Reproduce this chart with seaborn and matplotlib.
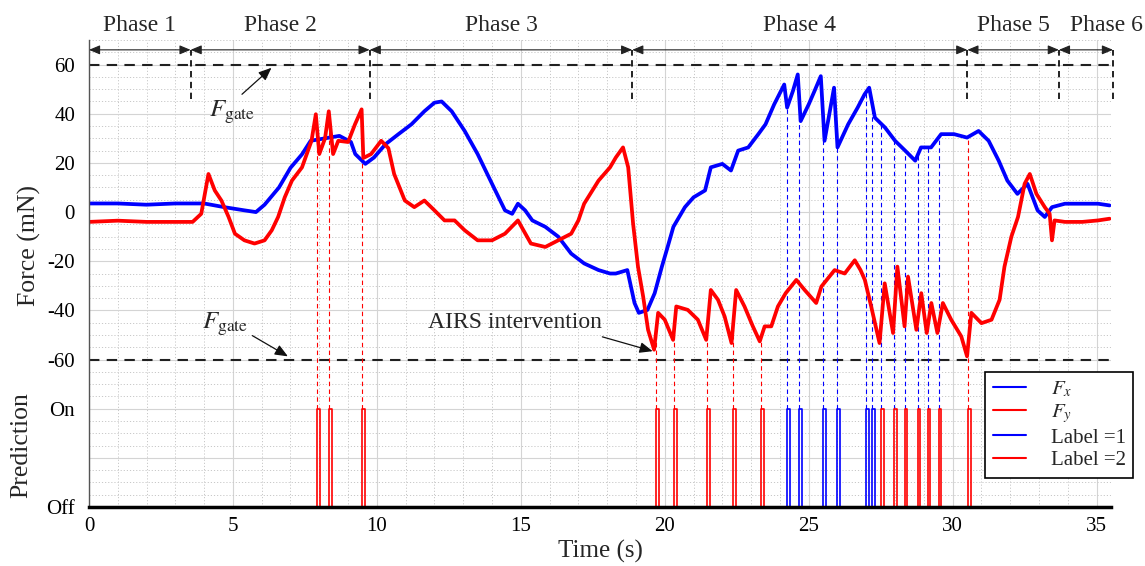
import matplotlib.pyplot as plt
import seaborn as sns
import numpy as np
import pandas as pd
from matplotlib.lines import Line2D
from matplotlib.ticker import MultipleLocator


# force traces (time in s, force in mN)
fx_t = [0.0, 1.0, 2.0, 3.0, 4.0, 4.7, 5.4, 5.8, 6.1, 6.6, 7.0, 7.4, 7.7, 8.2, 8.7, 9.1,
        9.25, 9.6, 9.9, 10.3, 10.75, 11.2, 11.65, 12.0, 12.25, 12.6, 13.05, 13.5, 14.0,
        14.45, 14.7, 14.9, 15.15, 15.4, 15.85, 16.3, 16.75, 17.2, 17.7, 18.1, 18.3, 18.7,
        18.95, 19.1, 19.4, 19.65, 19.9, 20.1, 20.3, 20.7, 21.0, 21.4, 21.6, 22.0, 22.3,
        22.55, 22.9, 23.25, 23.5, 23.8, 24.15, 24.25, 24.45, 24.62, 24.72, 25.0, 25.2,
        25.42, 25.55, 25.88, 26.0, 26.37, 26.7, 26.94, 27.1, 27.3, 27.65, 28.0, 28.35,
        28.7, 28.9, 29.25, 29.6, 30.05, 30.5, 30.9, 31.25, 31.6, 31.9, 32.25, 32.6, 32.95,
        33.2, 33.45, 33.9, 34.5, 35.05, 35.45]
fx_v = [3.5, 3.5, 3.0, 3.5, 3.5, 2.0, 0.7, 0.0, 3.0, 10, 18, 23.5, 29, 30, 31, 28.5,
        23.6, 19.6, 22.2, 27.6, 31.7, 35.7, 41, 44.5, 45, 41, 33, 23.6, 11.5,
        0.7, -0.7, 3.4, 0.7, -3.4, -6, -10, -16.9, -20.9, -23.6, -25, -25, -23.6,
        -37, -41, -39.8, -33, -22.2, -14.2, -6, 2, 6, 8.8, 18.2, 19.6, 16.9,
        25, 26.3, 31.7, 35.7, 43.8, 51.9, 42.5, 49.2, 56, 37, 43.8, 49.2,
        55.3, 29, 50.6, 26.3, 35.7, 42.5, 47.9, 50.6, 38.4, 34.4, 29, 25,
        20.9, 26.3, 26.3, 31.7, 31.7, 30.3, 33, 29, 20.9, 12.8, 7.4, 11.5, 0.7,
        -2, 2, 3.4, 3.4, 3.4, 2.7]

fy_t = [0.0, 1.0, 2.0, 3.0, 3.6, 3.9, 4.15, 4.37, 4.6, 4.85, 5.07, 5.4, 5.75, 6.1, 6.35,
        6.57, 6.8, 7.05, 7.4, 7.73, 7.88, 8.0, 8.2, 8.33, 8.48, 8.66, 9.0, 9.24, 9.47,
        9.53, 9.8, 10.15, 10.4, 10.6, 10.97, 11.3, 11.65, 12.0, 12.35, 12.7, 13.05, 13.5,
        14.0, 14.45, 14.9, 15.35, 15.85, 16.3, 16.75, 17.0, 17.2, 17.7, 18.1, 18.3, 18.55,
        18.73, 18.9, 19.07, 19.25, 19.42, 19.63, 19.77, 20.0, 20.29, 20.4, 20.8, 21.15,
        21.44, 21.6, 21.85, 22.08, 22.32, 22.48, 22.77, 23.06, 23.3, 23.47, 23.7, 23.93,
        24.2, 24.57, 24.86, 25.26, 25.44, 25.9, 26.25, 26.6, 26.8, 26.95, 27.17, 27.46,
        27.64, 27.93, 28.08, 28.33, 28.45, 28.74, 28.91, 29.1, 29.26, 29.47, 29.66, 29.95,
        30.3, 30.5, 30.65, 31.0, 31.35, 31.63, 31.8, 32.04, 32.27, 32.5, 32.68, 32.91,
        33.2, 33.37, 33.45, 33.54, 33.9, 34.5, 35.05, 35.45]
fy_v = [-4, -3.5, -4, -4, -4, -0.7, 15.5, 8.8, 4.7, -2, -8.8, -11.5, -12.8, -11.5, -7.4,
        -2, 6, 12.8, 18.2, 29, 39.8, 23.6, 30, 41, 23.6, 29, 28.5, 35.7, 41.8,
        22, 23.6, 29, 26, 15.5, 4.7, 2, 4.7, 0.7, -3.4, -3.4, -7.4, -11.5,
        -11.5, -8.8, -3.4, -12.8, -14.2, -11.5, -8.8, -3.4, 3.4, 12.8, 18.2, 22.2, 26.3,
        18.2, -4.7, -22.2, -34.4, -47.9, -56, -41, -43.8, -52, -38.4, -39.8, -43.8,
        -52, -31.7, -35.7, -42.5, -53.3, -31.7, -38.4, -46.5, -52.6, -46.5, -46.5, -38.4,
        -33, -27.6, -31.7, -37, -30.3, -23.6, -25, -19.6, -23.6, -27.6, -38.4, -53.3,
        -29, -49.2, -22.2, -46.5, -26.3, -47.9, -33, -49.2, -37, -49.2, -37, -43.8,
        -50.6, -58.7, -41, -45.2, -43.8, -35.7, -22.2, -10, -2, 11.5, 15.5, 7.4,
        2, -0.7, -11.5, -3.4, -4, -4, -3.4, -2.7]

# predicted contact events
event_t = [7.93, 8.34, 9.50, 19.69, 20.31, 21.46, 22.36, 23.33, 24.24, 24.65, 25.49,
           25.97, 26.98, 27.19, 27.50, 27.95, 28.33, 28.78, 29.13, 29.51, 30.52]
event_label = [2, 2, 2, 2, 2, 2, 2, 2, 1, 1, 1, 1, 1, 1, 2, 2, 2, 2, 2, 2, 2]
guide_label = [2, 2, 2, 2, 2, 2, 2, 2, 1, 1, 1, 1, 1, 1, 1, 1, 1, 1, 1, 1, 2]
guide_trace = ["Fy"] * 8 + ["Fx"] * 13

phase_edges = [0, 3.53, 9.75, 18.87, 30.51, 33.69, 35.57]
phase_names = ["Phase 1", "Phase 2", "Phase 3", "Phase 4", "Phase 5", "Phase 6"]

f_gate = 60
on_level, off_level = -80, -120

blue, red = "#0000ff", "#ff0000"
colors = {1: blue, 2: red}

sns.set_style("whitegrid")
plt.rcParams["font.family"] = ["Liberation Serif", "DejaVu Serif"]
plt.rcParams["mathtext.fontset"] = "stix"

fig = plt.figure(figsize=(11.45, 5.66), dpi=100)
ax = fig.add_axes([0.0777, 0.1042, 0.8926, 0.8251])

# grid first
ax.set_xlim(0, 35.5)
ax.set_ylim(off_level, 70)
ax.xaxis.set_major_locator(MultipleLocator(5))
ax.xaxis.set_minor_locator(MultipleLocator(1))
ax.yaxis.set_minor_locator(MultipleLocator(5))
yt = [60, 40, 20, 0, -20, -40, -60, -80, -100, -120]
ax.set_yticks(yt)
ax.set_yticklabels(["60", "40", "20", "0", "-20", "-40", "-60", "On", "", "Off"])
ax.grid(which="major", color="#d4d4d4", lw=0.8, ls="-")
ax.grid(which="minor", color="#c8c8c8", lw=0.7, ls=(0, (1.2, 2.0)))
ax.set_axisbelow(True)

# gate lines
for g in (f_gate, -f_gate):
    ax.axhline(g, color="#202020", lw=1.5, ls=(0, (5, 3.5)), zorder=1.6)

# guide lines from the traces down to the prediction pulses
fx_at = np.interp(event_t, fx_t, fx_v)
fy_at = np.interp(event_t, fy_t, fy_v)
tops = np.where(np.array(guide_trace) == "Fx", fx_at, fy_at)
ax.vlines(event_t, on_level, tops, colors=[colors[g] for g in guide_label],
          linestyles=(0, (4, 3)), lw=0.8, zorder=1.7)

# force traces
df = pd.concat([
    pd.DataFrame({"t": fx_t, "force": fx_v, "axis": "Fx"}),
    pd.DataFrame({"t": fy_t, "force": fy_v, "axis": "Fy"}),
])
sns.lineplot(data=df, x="t", y="force", hue="axis", hue_order=["Fx", "Fy"],
             palette={"Fx": blue, "Fy": red}, estimator=None, sort=False,
             lw=2.7, legend=False, ax=ax, zorder=2)

# prediction pulses
w = 0.1
for lab in (1, 2):
    ts, ys = [], []
    for t, l in zip(event_t, event_label):
        if l == lab:
            ts += [t, t, t + w, t + w, np.nan]
            ys += [off_level, on_level, on_level, off_level, np.nan]
    ax.plot(ts, ys, color=colors[lab], lw=1.2, zorder=2)

# phase markers
ax.vlines(phase_edges[1:], 46, 66, colors="#111111", linestyles=(0, (3.5, 2.5)),
          lw=1.3, clip_on=False)
for i, (a, b) in enumerate(zip(phase_edges[:-1], phase_edges[1:])):
    ax.annotate("", xy=(b, 66), xytext=(a, 66), annotation_clip=False,
                arrowprops=dict(arrowstyle="<|-|>,head_length=0.6,head_width=0.25",
                                color="#222222", lw=0.8, shrinkA=0, shrinkB=0,
                                mutation_scale=11))
    if i < len(phase_names) - 1:
        ax.text((a + b) / 2, 76, phase_names[i], ha="center", va="center",
                fontsize=17, clip_on=False)
    else:
        ax.annotate(phase_names[i], xy=(0.998, 76), xycoords=("figure fraction", "data"),
                    ha="right", va="center", fontsize=17, annotation_clip=False)

# annotations
arrow_kw = dict(arrowstyle="-|>,head_length=0.6,head_width=0.25", color="#111111",
                lw=0.9, mutation_scale=13, shrinkA=1, shrinkB=0)
ax.annotate(r"$F_{\mathrm{gate}}$", xy=(6.34, 58.7), xytext=(4.96, 40.7),
            ha="center", va="center", fontsize=18,
            arrowprops=dict(arrow_kw, relpos=(0.62, 1.0)))
ax.annotate(r"$F_{\mathrm{gate}}$", xy=(6.91, -58.7), xytext=(4.72, -45.9),
            ha="center", va="center", fontsize=18,
            arrowprops=dict(arrow_kw, relpos=(1.0, 0.2)))
ax.annotate("AIRS intervention", xy=(19.58, -56.6), xytext=(14.79, -45),
            ha="center", va="center", fontsize=17,
            arrowprops=dict(arrow_kw, relpos=(0.93, 0.0)))

# axes styling
for s in ("top", "right"):
    ax.spines[s].set_visible(False)
ax.spines["left"].set_color("#555555")
ax.spines["left"].set_linewidth(1.0)
ax.spines["bottom"].set_color("black")
ax.spines["bottom"].set_linewidth(2.5)
ax.tick_params(axis="both", which="both", direction="in", colors="#444444",
               labelcolor="black", labelsize=15)
ax.tick_params(axis="y", which="major", length=5, pad=10)
ax.tick_params(axis="x", which="major", length=5, pad=7)
ax.tick_params(which="minor", length=4)

ax.set_xlabel("Time (s)", fontsize=18, labelpad=3)
ax.set_ylabel("")
fig.text(0.026, 0.567, "Force (mN)", rotation=90, ha="center", va="center", fontsize=18.5)
fig.text(0.019, 0.214, "Prediction", rotation=90, ha="center", va="center", fontsize=18.5)

handles = [Line2D([], [], color=blue, lw=1.5), Line2D([], [], color=red, lw=1.5),
           Line2D([], [], color=blue, lw=1.5), Line2D([], [], color=red, lw=1.5)]
leg = ax.legend(handles, [r"$F_x$", r"$F_y$", "Label =1", "Label =2"],
                loc="upper left", bbox_to_anchor=(0.877, 0.289), borderaxespad=0,
                fontsize=15, handlelength=1.6, labelspacing=0.15, fancybox=False,
                framealpha=1, edgecolor="black", borderpad=0.35, handletextpad=1.2)
leg.get_frame().set_linewidth(1.2)
leg.set_zorder(5)

fig.savefig("out.png", dpi=100)
